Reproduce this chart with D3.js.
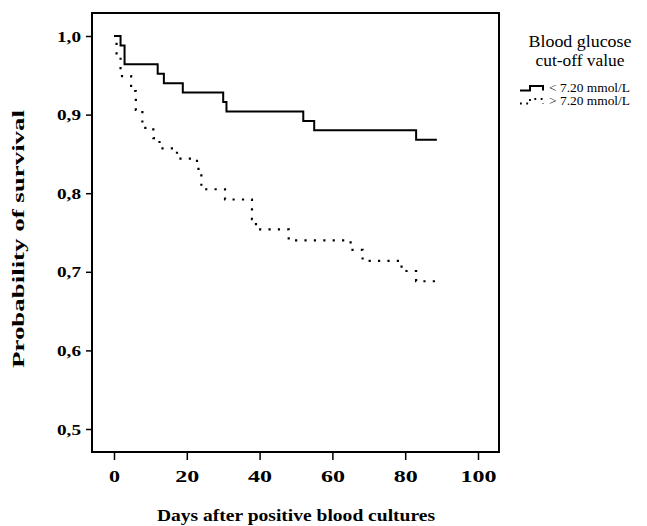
<!DOCTYPE html>
<html>
<head>
<meta charset="utf-8">
<script src="https://cdn.jsdelivr.net/npm/d3@7"></script>
<style>
  body { margin: 0; background: #fff; }
  svg { display: block; }
  text { font-family: "Liberation Serif", "Times New Roman", serif; fill: #000; }
  .tick line { stroke: #000; stroke-width: 1.5; }
</style>
</head>
<body>
<div id="chart"></div>
<script>
// survival curves, step points [day, probability]
const lowDays  = [0, 1.8, 2.9, 12.0, 13.7, 18.9, 30.0, 30.9, 52.0, 55.0, 83.0, 88.7]
const lowProb  = [1.000, 0.988, 0.964, 0.952, 0.940, 0.928, 0.916, 0.904, 0.892, 0.880, 0.868, 0.868]
const highDays = [0, 0.7, 1.8, 4.7, 6.0, 7.8, 10.8, 12.5, 17.3, 22.8, 24.0, 30.5, 37.9, 39.0, 48.0, 65.0, 68.3, 79.0, 83.0, 88.7]
const highProb = [1.000, 0.975, 0.949, 0.930, 0.906, 0.883, 0.870, 0.857, 0.844, 0.831, 0.805, 0.792, 0.767, 0.754, 0.740, 0.728, 0.714, 0.701, 0.688, 0.688]
const xTicks = [0, 20, 40, 60, 80, 100]
const yTicks = [0.5, 0.6, 0.7, 0.8, 0.9, 1.0]
const legendTitle = ["Blood glucose", "cut-off value"]
const legendLabels = ["< 7.20 mmol/L", "> 7.20 mmol/L"]

const W = 647, H = 526
const frame = { left: 92, right: 499, top: 13, bottom: 452 }

const svg = d3.select("#chart").append("svg")
    .attr("width", W)
    .attr("height", H)

const x = d3.scaleLinear().domain([0, 100]).range([114, 478])
const y = d3.scaleLinear().domain([0.5, 1.0]).range([429, 36])

const fmt = d => d3.format(".1f")(d).replace(".", ",")

// Y axis
const gy = svg.append("g")
    .attr("transform", "translate(" + frame.left + ",0)")
    .call(d3.axisLeft(y).tickValues(yTicks).tickSize(6).tickPadding(0).tickFormat(fmt))
gy.select(".domain").remove()
gy.selectAll(".tick text")
    .attr("x", -11)
    .attr("dy", "0.34em")
    .style("font-size", "15px")
    .style("font-weight", "bold")
    .attr("textLength", 24)
    .attr("lengthAdjust", "spacingAndGlyphs")

// X axis
const gx = svg.append("g")
    .attr("transform", "translate(0," + frame.bottom + ")")
    .call(d3.axisBottom(x).tickValues(xTicks).tickSize(8).tickPadding(0))
gx.select(".domain").remove()
gx.selectAll(".tick text")
    .attr("y", 30)
    .attr("dy", 0)
    .style("font-size", "17px")
    .style("font-weight", "bold")
    .attr("textLength", d => d >= 100 ? 36 : d >= 10 ? 24 : 11)
    .attr("lengthAdjust", "spacingAndGlyphs")

// frame
svg.append("rect")
    .attr("x", frame.left)
    .attr("y", frame.top)
    .attr("width", frame.right - frame.left)
    .attr("height", frame.bottom - frame.top)
    .attr("fill", "none")
    .attr("stroke", "#000")
    .attr("stroke-width", 2)

// curves
const step = d3.line()
    .curve(d3.curveStepAfter)
    .x(d => x(d[0]))
    .y(d => y(d[1]))

svg.append("path")
    .datum(d3.zip(lowDays, lowProb))
    .attr("d", step)
    .attr("fill", "none")
    .attr("stroke", "#000")
    .attr("stroke-width", 2)

svg.append("path")
    .datum(d3.zip(highDays, highProb))
    .attr("d", step)
    .attr("fill", "none")
    .attr("stroke", "#000")
    .attr("stroke-width", 2.2)
    .attr("stroke-dasharray", "2.2,7.2")

// axis titles
svg.append("text")
    .attr("x", 296)
    .attr("y", 521)
    .attr("text-anchor", "middle")
    .style("font-size", "16px")
    .style("font-weight", "bold")
    .attr("textLength", 278)
    .attr("lengthAdjust", "spacingAndGlyphs")
    .text("Days after positive blood cultures")

svg.append("text")
    .attr("transform", "translate(24,239) rotate(-90)")
    .attr("text-anchor", "middle")
    .style("font-size", "16px")
    .style("font-weight", "bold")
    .attr("textLength", 258)
    .attr("lengthAdjust", "spacingAndGlyphs")
    .text("Probability of survival")

// legend
svg.selectAll("text.legTitle")
    .data(legendTitle)
    .join("text")
    .attr("class", "legTitle")
    .attr("x", 580)
    .attr("y", (d, i) => 47 + i * 18.5)
    .attr("text-anchor", "middle")
    .style("font-size", "16px")
    .attr("textLength", (d, i) => i == 0 ? 103 : 89)
    .attr("lengthAdjust", "spacingAndGlyphs")
    .text(d => d)

svg.selectAll("text.legLabel")
    .data(legendLabels)
    .join("text")
    .attr("class", "legLabel")
    .attr("x", 549)
    .attr("y", (d, i) => 92 + i * 13)
    .style("font-size", "12px")
    .attr("textLength", 81)
    .attr("lengthAdjust", "spacingAndGlyphs")
    .text(d => d)

svg.selectAll("path.legSym")
    .data(legendLabels)
    .join("path")
    .attr("class", "legSym")
    .attr("d", (d, i) => {
        const b = 90.5 + i * 13
        return "M520," + b + "H530V" + (b - 4.5) + "H543V" + b
    })
    .attr("fill", "none")
    .attr("stroke", "#000")
    .attr("stroke-width", (d, i) => i == 0 ? 2 : 1.8)
    .attr("stroke-dasharray", (d, i) => i == 0 ? null : "1.8,4.5")
</script>
</body>
</html>
